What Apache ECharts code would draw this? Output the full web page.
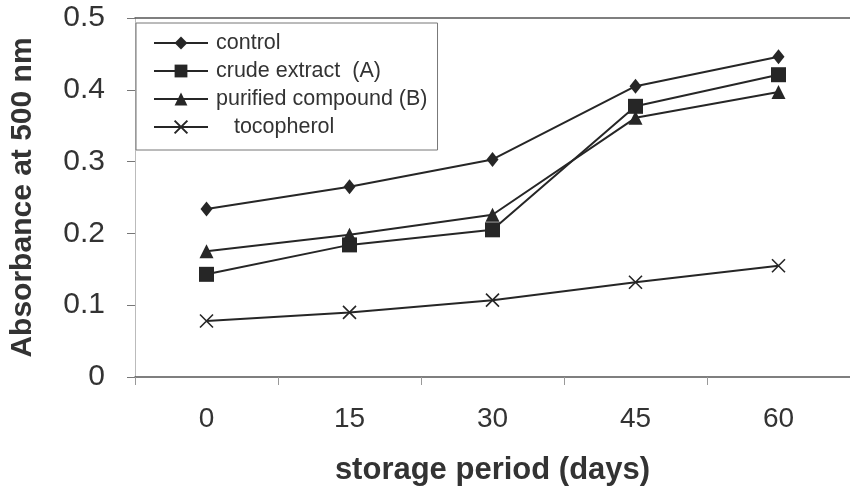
<!DOCTYPE html>
<html>
<head>
<meta charset="utf-8">
<script src="https://cdn.jsdelivr.net/npm/echarts@6/dist/echarts.min.js"></script>
<style>
html,body{margin:0;padding:0;background:#fff;}
#chart{width:850px;height:493px;}
</style>
</head>
<body>
<div id="chart"></div>
<script>
var categories = ['0', '15', '30', '45', '60'];
var control = [0.234, 0.265, 0.303, 0.405, 0.446];
var crudeExtract = [0.143, 0.184, 0.205, 0.377, 0.421];
var purifiedCompound = [0.175, 0.198, 0.226, 0.361, 0.397];
var tocopherol = [0.078, 0.090, 0.107, 0.132, 0.155];

var ink = '#262626';
var font = '"Liberation Sans", Arial, sans-serif';

function mkSeries(name, data, symbol, size, extraItem) {
  var it = {color: ink, borderColor: ink, borderWidth: 0};
  if (extraItem) { for (var k in extraItem) it[k] = extraItem[k]; }
  return {
    name: name,
    type: 'line',
    data: data,
    symbol: symbol,
    symbolSize: size,
    showAllSymbol: true,
    lineStyle: {color: ink, width: 2},
    itemStyle: it,
    emphasis: {disabled: true}
  };
}

var chart = echarts.init(document.getElementById('chart'), null, {renderer: 'canvas'});
chart.setOption({
  animation: false,
  backgroundColor: '#ffffff',
  grid: {left: 132, width: 722, top: 18, bottom: 116, containLabel: false},
  legend: {
    orient: 'vertical',
    left: 136,
    top: 23,
    padding: [9, 10, 12, 17],
    itemWidth: 54,
    itemHeight: 16,
    itemGap: 6,
    backgroundColor: '#fff',
    borderColor: '#777',
    borderWidth: 1,
    textStyle: {fontFamily: font, fontSize: 21.5, color: '#333', lineHeight: 22, padding: [0, 0, 0, 3]},
    formatter: function (n) { return n === 'tocopherol' ? '   tocopherol' : n; },
    data: ['control', 'crude extract  (A)', 'purified compound (B)', 'tocopherol']
  },
  xAxis: [{
    type: 'category',
    data: categories,
    position: 'bottom',
    boundaryGap: true,
    axisLine: {show: true, lineStyle: {color: '#555', width: 1.5}},
    axisTick: {show: true, length: 8, alignWithLabel: false, lineStyle: {color: '#999'}},
    axisLabel: {fontFamily: font, fontSize: 28, color: '#333', margin: 28},
    splitLine: {show: false},
    name: 'storage period (days)',
    nameLocation: 'middle',
    nameGap: 78,
    nameTextStyle: {fontFamily: font, fontSize: 31, fontWeight: 'bold', color: '#333'}
  }, {
    type: 'category',
    data: categories,
    position: 'top',
    axisLine: {show: true, lineStyle: {color: '#555', width: 1.5}},
    axisTick: {show: false},
    axisLabel: {show: false},
    splitLine: {show: false}
  }],
  yAxis: {
    type: 'value',
    min: 0,
    max: 0.5,
    interval: 0.1,
    axisLine: {show: true, lineStyle: {color: '#bbb', width: 1}},
    axisTick: {show: true, length: 8, lineStyle: {color: '#777'}},
    axisLabel: {fontFamily: font, fontSize: 30, color: '#333', margin: 30},
    splitLine: {show: false},
    name: 'Absorbance at 500 nm',
    nameLocation: 'middle',
    nameGap: 97,
    nameTextStyle: {fontFamily: font, fontSize: 30, fontWeight: 'bold', color: '#333'}
  },
  series: [
    mkSeries('control', control, 'diamond', [12, 15]),
    mkSeries('crude extract  (A)', crudeExtract, 'rect', 15),
    mkSeries('purified compound (B)', purifiedCompound, 'triangle', 14),
    mkSeries('tocopherol', tocopherol, 'path://M0,0L10,10M10,0L0,10', 13, {color: 'none', borderColor: ink, borderWidth: 1.6})
  ]
});
</script>
</body>
</html>
